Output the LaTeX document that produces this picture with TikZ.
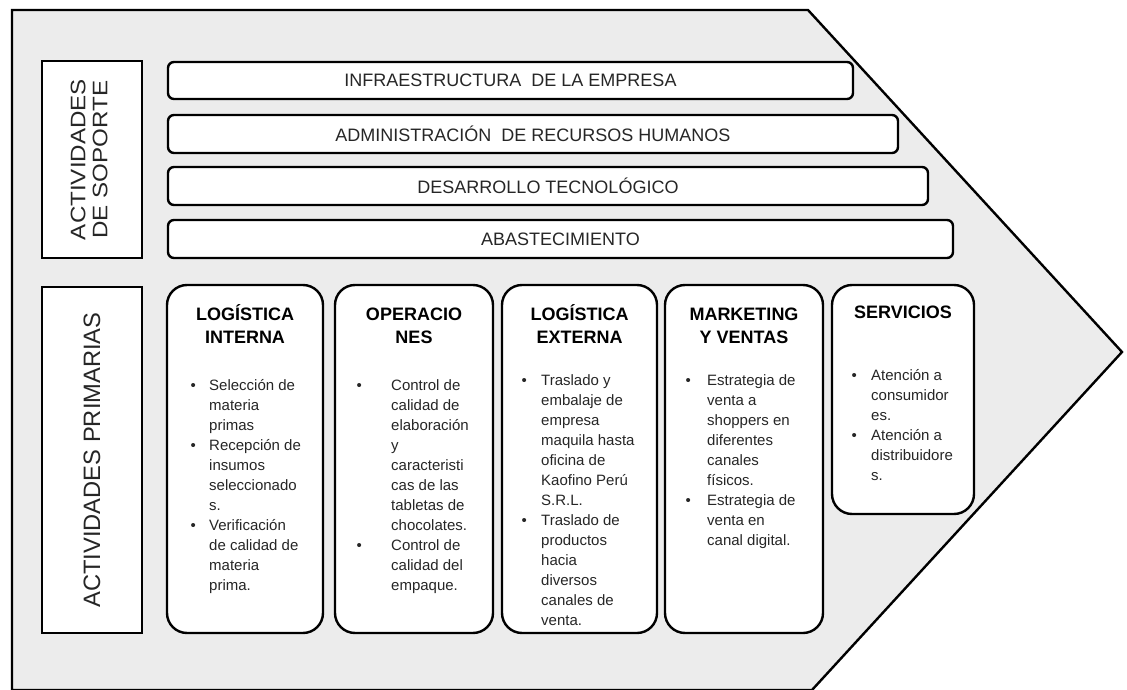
\documentclass[tikz,border=0pt]{standalone}
\usepackage{fontspec}
\setmainfont{Liberation Sans}
\usepackage{array}
\usetikzlibrary{positioning}
\definecolor{chainbg}{RGB}{236,236,236}

\begin{document}
\begin{tikzpicture}[x=1pt, y=-1pt, line width=2.4pt,
  side/.style={draw, fill=white, inner sep=0pt},
  bar/.style={draw, fill=white, rounded corners=6pt, inner sep=0pt, text=black!85,
    font=\fontsize{18}{22}\selectfont},
  activity/.style={draw, fill=white, rounded corners=20pt, inner sep=0pt},
  title/.style={anchor=base, inner sep=0pt, align=center,
    font=\bfseries\fontsize{18}{23.5}\selectfont},
  items/.style={anchor=base west, inner sep=0pt, text=black!85,
    font=\fontsize{15}{20}\selectfont}]
  \useasboundingbox (0,0) rectangle (1127,690);

  \coordinate (P1) at (12,10);
  \coordinate (P2) at (808,10);
  \coordinate (tip) at (1122,352);
  \coordinate (P4) at (812,690);
  \coordinate (P5) at (12,690);
  \filldraw[fill=chainbg] (P1) -- (P2) -- (tip) -- (P4) -- (P5) -- cycle;

  % actividades de soporte
  \node[side, minimum width=100pt, minimum height=197pt] (soporte) at (92,159.5) {};
  \node[rotate=90, inner sep=0pt, text=black!85, font=\fontsize{21}{22}\selectfont] (soportetxt) at (soporte)
    {\scalebox{1.15}[1]{\begin{tabular}{@{}c@{}}ACTIVIDADES\\DE SOPORTE\end{tabular}}};

  \node[bar, minimum width=685pt, minimum height=37pt] (infra) at (510.5,80.5) {INFRAESTRUCTURA\ \ DE LA EMPRESA};
  \node[bar, minimum width=730pt, minimum height=38pt] (rrhh) at (533,134) {ADMINISTRACIÓN\ \ DE RECURSOS HUMANOS};
  \node[bar, minimum width=760pt, minimum height=38pt] (tecno) at (548,186) {DESARROLLO TECNOLÓGICO};
  \node[bar, minimum width=785pt, minimum height=38pt] (abast) at (560.5,239) {ABASTECIMIENTO};

  % actividades primarias
  \node[side, minimum width=100pt, minimum height=346pt] (primarias) at (92,460) {};
  \node[rotate=90, inner sep=0pt, text=black!85, font=\fontsize{23.7}{26}\selectfont] (primariastxt) at (primarias)
    {ACTIVIDADES PRIMARIAS};

  \node[activity, minimum width=156pt, minimum height=348pt] (li) at (245,459) {};
  \node[activity, minimum width=158pt, minimum height=348pt] (op) at (414,459) {};
  \node[activity, minimum width=155pt, minimum height=348pt] (le) at (579.5,459) {};
  \node[activity, minimum width=158pt, minimum height=348pt] (mv) at (744,459) {};
  \node[activity, minimum width=142pt, minimum height=229pt] (sv) at (903,399.5) {};

  \node[title] (litit) at (245,343.5) {LOGÍSTICA\\INTERNA};
  \node[title] (optit) at (414,343.5) {OPERACIO\\NES};
  \node[title] (letit) at (579.5,343.5) {LOGÍSTICA\\EXTERNA};
  \node[title] (mvtit) at (744,343.5) {MARKETING\\Y VENTAS};
  \node[title] (svtit) at (903,318) {SERVICIOS};

  \node[items] (liitems) at (189.5,390) {\begin{tabular}[t]{@{}wl{18.5pt}@{}l@{}}
    \textbullet & Selección de\\ & materia\\ & primas\\
    \textbullet & Recepción de\\ & insumos\\ & seleccionado\\ & s.\\
    \textbullet & Verificación\\ & de calidad de\\ & materia\\ & prima.
  \end{tabular}};
  \node[items] (opitems) at (355.5,390) {\begin{tabular}[t]{@{}wl{34.5pt}@{}l@{}}
    \textbullet & Control de\\ & calidad de\\ & elaboración\\ & y\\ & caracteristi\\
    & cas de las\\ & tabletas de\\ & chocolates.\\
    \textbullet & Control de\\ & calidad del\\ & empaque.
  \end{tabular}};
  \node[items] (leitems) at (520.5,385) {\begin{tabular}[t]{@{}wl{19.5pt}@{}l@{}}
    \textbullet & Traslado y\\ & embalaje de\\ & empresa\\ & maquila hasta\\ & oficina de\\
    & Kaofino Perú\\ & S.R.L.\\
    \textbullet & Traslado de\\ & productos\\ & hacia\\ & diversos\\ & canales de\\ & venta.
  \end{tabular}};
  \node[items] (mvitems) at (684.5,385) {\begin{tabular}[t]{@{}wl{21.5pt}@{}l@{}}
    \textbullet & Estrategia de\\ & venta a\\ & shoppers en\\ & diferentes\\ & canales\\ & físicos.\\
    \textbullet & Estrategia de\\ & venta en\\ & canal digital.
  \end{tabular}};
  \node[items] (svitems) at (850.5,380) {\begin{tabular}[t]{@{}wl{19.5pt}@{}l@{}}
    \textbullet & Atención a\\ & consumidor\\ & es.\\
    \textbullet & Atención a\\ & distribuidore\\ & s.
  \end{tabular}};
\end{tikzpicture}
\end{document}
